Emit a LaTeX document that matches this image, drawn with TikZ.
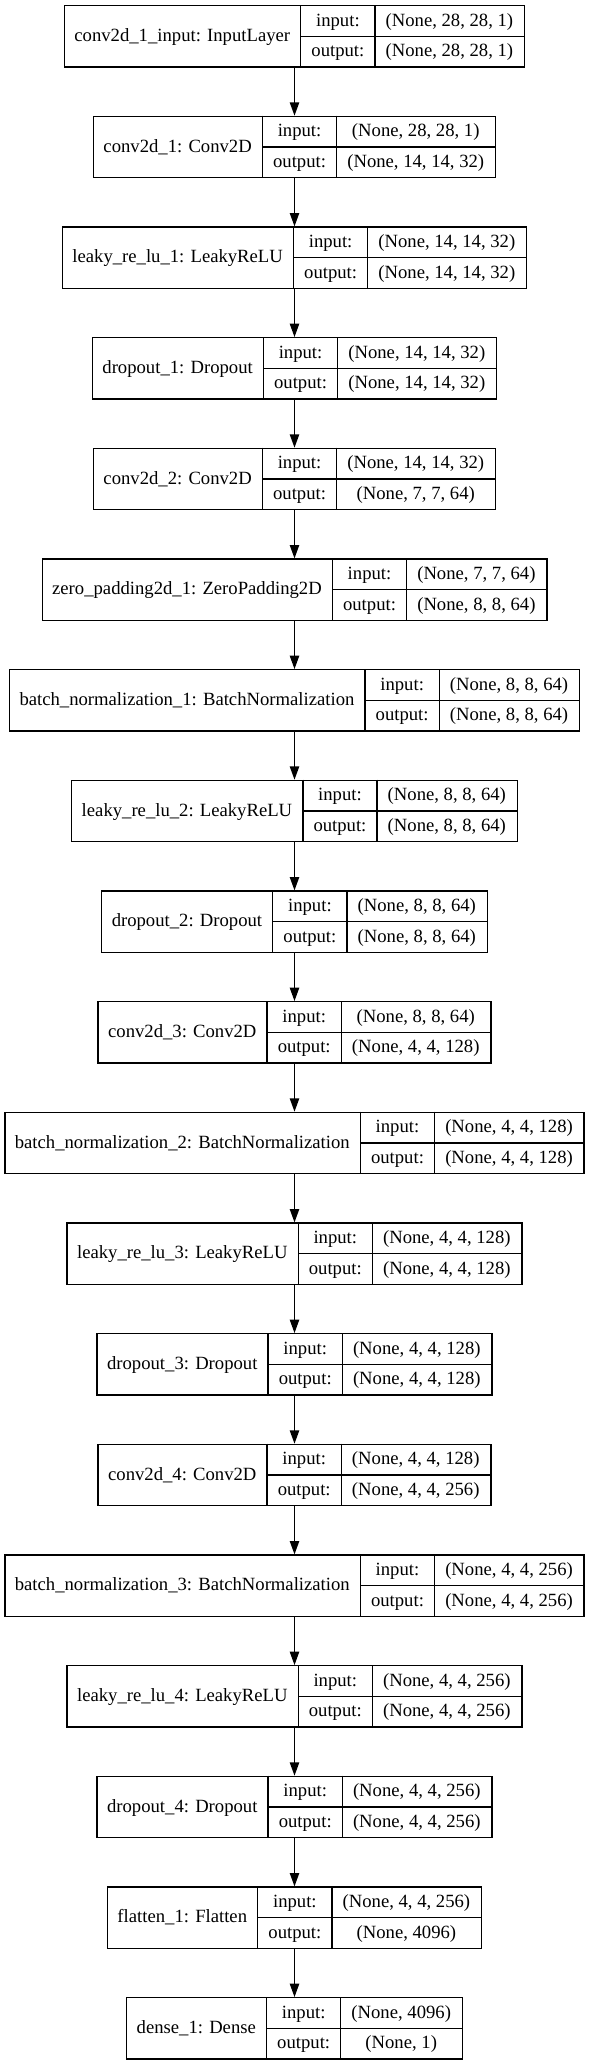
\documentclass[tikz,border=0pt]{standalone}
\usepackage{fontspec}
\setmainfont{Liberation Serif}
\usetikzlibrary{arrows.meta}
\newcommand\lf{\fontsize{14pt}{16.8pt}\selectfont}
\newlength\LW \newlength\IW \newlength\VW \newlength\VWb \newlength\TW
\tikzset{
  box/.style={draw=black, line width=1pt, inner sep=0pt, minimum height=46pt},
  rule/.style={draw=black, line width=1pt},
  txt/.style={inner sep=0pt, text height=10.5pt, text depth=3pt, font=\lf},
  arr/.style={draw=black, line width=1pt, -{Triangle[length=10pt,width=7pt]}}
}
% store texts and measured widths of one layer (outside the picture)
\newcommand\kdef[4]{%
  \expandafter\gdef\csname kLab#1\endcsname{#2}%
  \expandafter\gdef\csname kIn#1\endcsname{#3}%
  \expandafter\gdef\csname kOut#1\endcsname{#4}%
  \settowidth\LW{\lf #2}\addtolength\LW{16pt}%
  \settowidth\VW{\lf #3}\settowidth\VWb{\lf #4}%
  \ifdim\VWb>\VW \setlength\VW{\VWb}\fi\addtolength\VW{16pt}%
  \expandafter\xdef\csname kLW#1\endcsname{\the\LW}%
  \expandafter\xdef\csname kVW#1\endcsname{\the\VW}%
}
% draw one layer box inside the picture
\newcommand\kbox[2]{%
  \setlength\LW{\csname kLW#1\endcsname}%
  \setlength\VW{\csname kVW#1\endcsname}%
  \setlength\TW{\LW}\addtolength\TW{\IW}\addtolength\TW{\VW}%
  \pgfmathsetmacro\yc{-(4.275+83*#2+23)}%
  \node[box, minimum width=\TW] (#1) at (220.875pt,\yc pt) {};
  \draw[rule] ([xshift=\LW]#1.north west) -- ([xshift=\LW]#1.south west);
  \draw[rule] ([xshift=\LW+\IW]#1.north west) -- ([xshift=\LW+\IW]#1.south west);
  \draw[rule] ([xshift=\LW]#1.west) -- (#1.east);
  \node[txt] (#1-name) at ([xshift=0.5\LW]#1.west) {\csname kLab#1\endcsname};
  \node[txt] (#1-in) at ([xshift=\LW+0.5\IW,yshift=11.5pt]#1.west) {input:};
  \node[txt] (#1-out) at ([xshift=\LW+0.5\IW,yshift=-11.5pt]#1.west) {output:};
  \node[txt] (#1-inv) at ([xshift=\LW+\IW+0.5\VW,yshift=11.5pt]#1.west) {\csname kIn#1\endcsname};
  \node[txt] (#1-outv) at ([xshift=\LW+\IW+0.5\VW,yshift=-11.5pt]#1.west) {\csname kOut#1\endcsname};
}
\begin{document}%
\settowidth\IW{\lf output:}\addtolength\IW{16pt}%
\kdef{L1}{conv2d\_1\_input: InputLayer}{(None, 28, 28, 1)}{(None, 28, 28, 1)}%
\kdef{L2}{conv2d\_1: Conv2D}{(None, 28, 28, 1)}{(None, 14, 14, 32)}%
\kdef{L3}{leaky\_re\_lu\_1: LeakyReLU}{(None, 14, 14, 32)}{(None, 14, 14, 32)}%
\kdef{L4}{dropout\_1: Dropout}{(None, 14, 14, 32)}{(None, 14, 14, 32)}%
\kdef{L5}{conv2d\_2: Conv2D}{(None, 14, 14, 32)}{(None, 7, 7, 64)}%
\kdef{L6}{zero\_padding2d\_1: ZeroPadding2D}{(None, 7, 7, 64)}{(None, 8, 8, 64)}%
\kdef{L7}{batch\_normalization\_1: BatchNormalization}{(None, 8, 8, 64)}{(None, 8, 8, 64)}%
\kdef{L8}{leaky\_re\_lu\_2: LeakyReLU}{(None, 8, 8, 64)}{(None, 8, 8, 64)}%
\kdef{L9}{dropout\_2: Dropout}{(None, 8, 8, 64)}{(None, 8, 8, 64)}%
\kdef{L10}{conv2d\_3: Conv2D}{(None, 8, 8, 64)}{(None, 4, 4, 128)}%
\kdef{L11}{batch\_normalization\_2: BatchNormalization}{(None, 4, 4, 128)}{(None, 4, 4, 128)}%
\kdef{L12}{leaky\_re\_lu\_3: LeakyReLU}{(None, 4, 4, 128)}{(None, 4, 4, 128)}%
\kdef{L13}{dropout\_3: Dropout}{(None, 4, 4, 128)}{(None, 4, 4, 128)}%
\kdef{L14}{conv2d\_4: Conv2D}{(None, 4, 4, 128)}{(None, 4, 4, 256)}%
\kdef{L15}{batch\_normalization\_3: BatchNormalization}{(None, 4, 4, 256)}{(None, 4, 4, 256)}%
\kdef{L16}{leaky\_re\_lu\_4: LeakyReLU}{(None, 4, 4, 256)}{(None, 4, 4, 256)}%
\kdef{L17}{dropout\_4: Dropout}{(None, 4, 4, 256)}{(None, 4, 4, 256)}%
\kdef{L18}{flatten\_1: Flatten}{(None, 4, 4, 256)}{(None, 4096)}%
\kdef{L19}{dense\_1: Dense}{(None, 4096)}{(None, 1)}%
\begin{tikzpicture}
\useasboundingbox[fill=white] (0pt,0pt) rectangle (441.75pt,-1548.75pt);
\foreach \i in {1,...,19} {
  \pgfmathtruncatemacro\k{\i-1}
  \kbox{L\i}{\k}
}
\foreach \i [evaluate=\i as \j using int(\i+1)] in {1,...,18}
  \draw[arr] (L\i) -- (L\j);
\end{tikzpicture}
\end{document}
